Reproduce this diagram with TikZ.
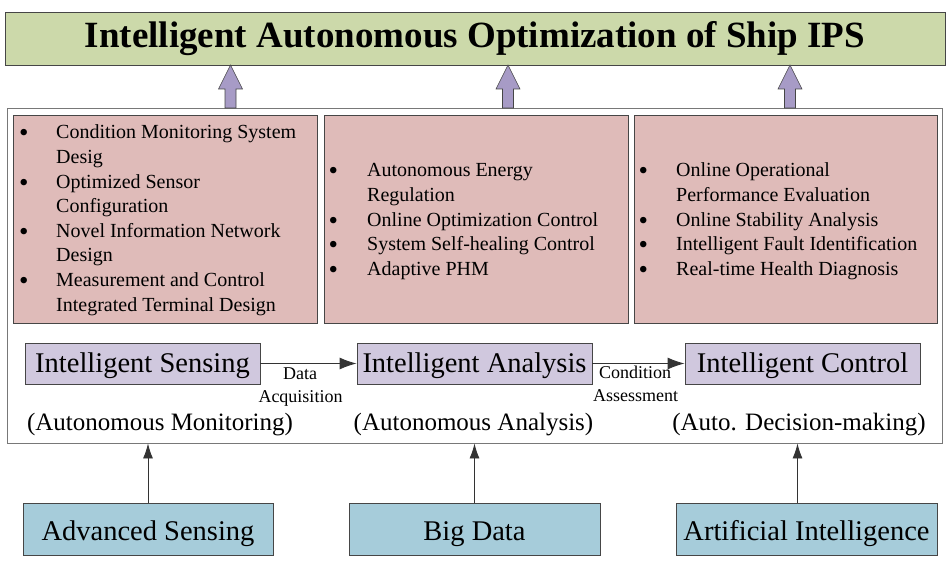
\documentclass[tikz,border=0pt]{standalone}
\usepackage{fontspec}
\setmainfont{Liberation Serif}
\usetikzlibrary{arrows.meta,calc}
\definecolor{titlegreen}{RGB}{204,217,170}
\definecolor{fatpurple}{RGB}{167,155,198}
\definecolor{pinkfill}{RGB}{223,187,185}
\definecolor{lilac}{RGB}{208,200,222}
\definecolor{bluefill}{RGB}{166,204,218}
\definecolor{edge}{RGB}{70,70,70}
\definecolor{outeredge}{RGB}{120,120,120}
\tikzset{
  titlebox/.style={draw=edge, line width=0.9pt, fill=titlegreen, inner sep=0pt, minimum width=940pt, minimum height=53pt, font=\fontsize{37}{40}\selectfont\bfseries},
  outerbox/.style={draw=outeredge, line width=0.9pt, fill=white, inner sep=0pt, minimum width=935pt, minimum height=335pt},
  pinkbox/.style={draw=edge, line width=0.9pt, fill=pinkfill, inner sep=0pt, minimum height=208pt},
  lilacbox/.style={draw=edge, line width=0.9pt, fill=lilac, inner sep=0pt, minimum width=235pt, minimum height=41pt, text height=20pt, text depth=3pt, font=\fontsize{28.5}{30}\selectfont},
  bluebox/.style={draw=edge, line width=0.9pt, fill=bluefill, inner sep=0pt, minimum height=52pt, text height=22pt, text depth=0pt, font=\fontsize{28.5}{30}\selectfont},
  bulletlist/.style={inner sep=0pt, anchor=base west, font=\fontsize{20}{24.6}\selectfont},
  smalllabel/.style={inner sep=0pt, anchor=base, font=\fontsize{18}{22}\selectfont},
  paren/.style={inner sep=0pt, anchor=base, font=\fontsize{25}{28}\selectfont},
  fatarrow/.style={draw=edge, line width=0.6pt, fill=fatpurple},
  blk/.style={draw=black!80, line width=0.9pt, -{Latex[length=15pt,width=10pt]}},
  blkh/.style={draw=black!80, line width=0.9pt, -{Latex[length=17pt,width=12pt]}},
}
\newcommand{\bl}{\hspace*{-1pt}\raisebox{-3pt}{\fontsize{27}{0}\selectfont\textbullet}}
\begin{document}
\begin{tikzpicture}[x=1pt,y=-1pt]
\useasboundingbox (0,0) rectangle (950,572);
% title
\node[titlebox] (title) at (475,38.5) {Intelligent Autonomous Optimization of Ship IPS};
% outer frame
\node[outerbox] (outer) at (474.5,275.5) {};
% fat arrows
\foreach \i/\xx in {1/230.5,2/508,3/790}{
  \coordinate (f\i) at (\xx,108);
  \draw[fatarrow] (f\i) ++(-5.5,0) -- ++(0,-19) -- ++(-6.5,0) -- ++(12,-24) -- ++(12,24) -- ++(-6.5,0) -- ++(0,19) -- cycle;
}
% pink boxes
\node[pinkbox, minimum width=304pt] (p1) at (165,219) {};
\node[pinkbox, minimum width=304pt] (p2) at (476,219) {};
\node[pinkbox, minimum width=303pt] (p3) at (785.5,219) {};
\renewcommand{\arraystretch}{1}
\node[bulletlist] (l1) at (20,139) {\begin{tabular}[t]{@{}p{36pt}@{}l@{}}
\bl & Condition Monitoring System\\
    & Desig\\
\bl & Optimized Sensor\\
    & Configuration\\
\bl & Novel Information Network\\
    & Design\\
\bl & Measurement and Control\\
    & Integrated Terminal Design
\end{tabular}};
\node[bulletlist] (l2) at (329.5,177) {\begin{tabular}[t]{@{}p{37.5pt}@{}l@{}}
\bl & Autonomous Energy\\
    & Regulation\\
\bl & Online Optimization Control\\
\bl & System Self-healing Control\\
\bl & Adaptive PHM
\end{tabular}};
\node[bulletlist] (l3) at (639.5,177) {\begin{tabular}[t]{@{}p{36.5pt}@{}l@{}}
\bl & Online Operational\\
    & Performance Evaluation\\
\bl & Online Stability Analysis\\
\bl & Intelligent Fault Identification\\
\bl & Real-time Health Diagnosis
\end{tabular}};
% lilac boxes
\node[lilacbox] (s1) at (142.5,363.5) {Intelligent Sensing};
\node[lilacbox] (s2) at (474.5,363.5) {Intelligent Analysis};
\node[lilacbox] (s3) at (802.5,363.5) {Intelligent Control};
\draw[blkh] (s1) -- (s2);
\draw[blkh] (s2) -- (s3);
\node[smalllabel] (da1) at (300,379) {Data};
\node[smalllabel] (da2) at (300.5,402) {Acquisition};
\node[smalllabel] (ca1) at (635,378) {Condition};
\node[smalllabel] (ca2) at (635.5,401) {Assessment};
% parenthetical labels
\node[paren] (m1) at (160,430) {(Autonomous Monitoring)};
\node[paren] (m2) at (473.5,430) {(Autonomous Analysis)};
\node[paren] (m3) at (799,430) {(Auto. Decision-making)};
% bottom boxes
\node[bluebox, minimum width=250pt] (b1) at (148,529) {Advanced Sensing};
\node[bluebox, minimum width=251pt] (b2) at (474.5,529) {Big Data};
\node[bluebox, minimum width=261pt] (b3) at (806.5,529) {Artificial Intelligence};
\draw[blk] (b1.north) -- (b1.north |- outer.south);
\draw[blk] (b2.north) -- (b2.north |- outer.south);
\coordinate (b3t) at ($(b3.north)+(-9,0)$);
\draw[blk] (b3t) -- (b3t |- outer.south);
\end{tikzpicture}
\end{document}
